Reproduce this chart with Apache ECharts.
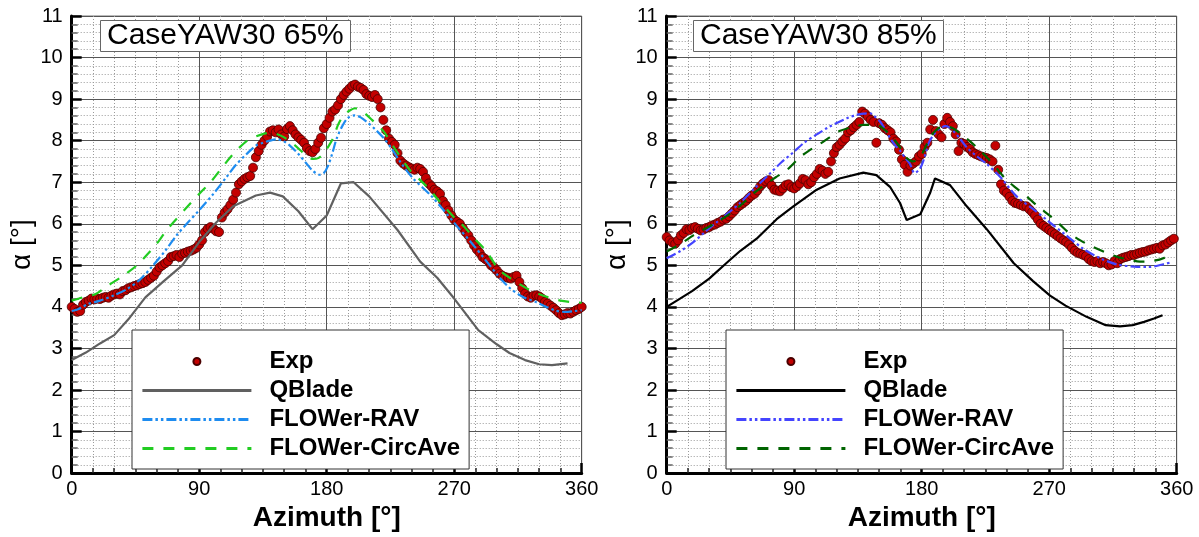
<!DOCTYPE html>
<html>
<head>
<meta charset="utf-8">
<script src="https://cdn.jsdelivr.net/npm/echarts@6/dist/echarts.min.js"></script>
<style>
html,body{margin:0;padding:0;background:#fff;}
#chart{width:1199px;height:537px;}
</style>
</head>
<body>
<div id="chart"></div>
<script>
// ---------------- DATA ----------------
const xTicks = [0, 90, 180, 270, 360];
const yTicks = [0,1,2,3,4,5,6,7,8,9,10,11];
const titles = ['CaseYAW30 65%', 'CaseYAW30 85%'];
const legendNames = ['Exp', 'QBlade', 'FLOWer-RAV', 'FLOWer-CircAve'];

// Exp measurements, one every 2 degrees of azimuth starting at 0
const expStep = 2;
const exp65 = [4.0,3.95,3.88,3.9,4.05,4.12,4.15,4.2,4.18,4.2,4.19,4.22,4.24,4.22,4.27,4.3,4.32,4.3,4.38,4.4,
  4.45,4.47,4.5,4.52,4.55,4.57,4.6,4.65,4.7,4.75,4.85,4.95,5.0,5.05,5.1,5.2,5.22,5.25,5.2,5.28,
  5.3,5.33,5.35,5.38,5.42,5.5,5.6,5.8,5.88,5.92,5.88,5.82,5.8,6.15,6.27,6.35,6.45,6.58,6.75,6.95,
  7.02,7.08,7.12,7.15,7.35,7.6,7.75,7.9,8.0,8.1,8.22,8.25,8.2,8.27,8.15,8.1,8.28,8.35,8.25,8.15,
  8.08,8.02,7.95,7.82,7.75,7.72,7.8,7.95,8.07,8.3,8.4,8.55,8.7,8.75,8.85,9.0,9.1,9.18,9.25,9.32,
  9.35,9.3,9.27,9.22,9.12,9.08,9.05,9.1,9.0,8.8,8.5,8.25,8.05,7.97,7.9,7.7,7.52,7.45,7.4,7.36,
  7.33,7.3,7.35,7.32,7.25,7.1,6.97,6.9,6.82,6.78,6.72,6.55,6.45,6.32,6.2,6.1,6.05,6.0,5.9,5.8,
  5.72,5.6,5.48,5.38,5.3,5.2,5.15,5.1,5.0,4.95,4.88,4.8,4.75,4.72,4.7,4.68,4.72,4.75,4.6,4.45,
  4.32,4.25,4.22,4.27,4.28,4.25,4.2,4.12,4.08,4.03,3.98,3.92,3.85,3.8,3.82,3.85,3.84,3.88,3.92,3.95,
  4.0];
const exp85 = [5.68,5.6,5.55,5.52,5.6,5.72,5.78,5.87,5.85,5.9,5.92,5.88,5.84,5.86,5.9,5.92,5.96,5.98,6.02,6.05,
  6.1,6.12,6.18,6.25,6.32,6.4,6.45,6.5,6.55,6.62,6.68,6.72,6.8,6.9,6.97,7.02,7.05,6.92,6.82,6.8,
  6.78,6.85,6.93,6.95,6.88,6.85,6.9,6.97,7.08,7.05,6.95,7.0,7.12,7.2,7.32,7.28,7.2,7.25,7.5,7.7,
  7.84,7.9,7.98,8.05,8.2,8.25,8.32,8.38,8.45,8.7,8.65,8.58,8.5,8.45,7.95,8.42,8.38,8.3,8.25,8.2,
  8.05,7.98,7.78,7.55,7.42,7.25,7.4,7.45,7.5,7.62,7.68,7.85,7.95,8.27,8.5,8.23,8.15,8.08,8.4,8.55,
  8.45,8.35,8.15,7.75,7.95,7.92,7.85,7.8,7.72,7.68,7.65,7.62,7.6,7.58,7.55,7.5,7.88,7.3,6.95,6.8,
  6.74,6.65,6.55,6.5,6.48,6.45,6.42,6.42,6.35,6.28,6.2,6.1,6.0,5.95,5.9,5.85,5.8,5.75,5.7,5.65,
  5.6,5.56,5.5,5.42,5.35,5.3,5.28,5.25,5.22,5.15,5.1,5.08,5.1,5.05,5.08,5.05,5.0,5.02,5.1,5.05,
  5.15,5.18,5.2,5.22,5.25,5.25,5.28,5.3,5.32,5.33,5.36,5.38,5.4,5.42,5.4,5.48,5.5,5.55,5.6,5.64];

// QBlade
const qb65Az  = [0,10,20,30,40,52,65,78,90,102,114,130,140,149,160,170,180,190,199,210,230,246,258,270,287,300,309,320,330,339,350];
const qb65Val = [2.72,2.9,3.12,3.32,3.7,4.23,4.62,5.0,5.56,6.03,6.42,6.68,6.75,6.66,6.3,5.87,6.2,6.97,7.0,6.66,5.85,5.09,4.7,4.2,3.44,3.1,2.89,2.72,2.62,2.6,2.64];
const qb85Az  = [0,8,17.9,30,42,52,63.5,77.6,89.4,105.9,122,138.8,148,157.6,164.7,169.4,179,185.9,189.4,200,211.8,225.9,245,258.6,270.6,281.5,296.4,309.9,320,328.9,337,344,350];
const qb85Val = [4.0,4.17,4.38,4.68,5.05,5.35,5.64,6.11,6.42,6.82,7.09,7.23,7.17,6.89,6.5,6.09,6.23,6.74,7.09,6.93,6.42,5.87,5.05,4.62,4.27,4.03,3.76,3.56,3.53,3.56,3.64,3.72,3.8];

// FLOWer-RAV
const rav65Az  = [0,5,11.6,20,30,38.6,48,57.5,66,74,82,90.6,100,109.4,116,123.5,130,135,140,144.7,150,154,160,166,170,175,178,181,184,187,191,195,199.8,204,208,214,220,226,231.7,241,253,262,271.8,282,293,301,309,318,328,335,341.6,348,355,360];
const rav65Val = [3.9,3.95,4.07,4.15,4.28,4.42,4.65,5.0,5.35,5.72,6.03,6.35,6.72,7.13,7.42,7.68,7.88,7.95,8.0,8.03,7.98,7.88,7.68,7.44,7.28,7.18,7.22,7.4,7.7,8.05,8.35,8.55,8.61,8.56,8.46,8.28,8.07,7.8,7.5,7.09,6.7,6.35,5.95,5.55,5.09,4.75,4.46,4.25,4.11,4.0,3.91,3.88,3.9,3.92];
const rav85Az  = [0,10,18.8,27,35,43,51.8,62,72.9,81,89.4,97,105.9,114,122.3,128,134,139,143.5,147,150.6,154,157.6,161,164.7,168,171.7,175,178.8,181.5,184.7,187.5,190.6,193.5,196.5,199.5,202.4,207,211.8,219,225.9,235.3,247,258.8,270.6,282,294,306,318,330,340,350,357];
const rav85Val = [5.17,5.35,5.56,5.8,6.03,6.25,6.5,6.85,7.21,7.48,7.72,7.95,8.15,8.32,8.46,8.55,8.62,8.65,8.66,8.58,8.46,8.28,8.07,7.9,7.76,7.6,7.44,7.22,7.33,7.55,7.92,8.1,8.23,8.3,8.35,8.32,8.23,8.05,7.84,7.62,7.44,7.13,6.66,6.35,6.03,5.72,5.4,5.17,5.02,4.97,4.96,5.02,5.08];

// FLOWer-CircAve
const ca65Az  = [0,5,10,17,25,36,46,53,60,66,71.7,80,90.6,98,104.7,112,118,123.5,130,136,140,144,150,156.4,162,166,170.5,174,177.6,181,184.7,188,191.7,196,200,206,212,220,229,238.8,246,252.9,258,264.7,270,276.4,285,292.9,301,310,322.6,333,345,355,360];
const ca65Val = [4.15,4.2,4.25,4.31,4.5,4.74,5.0,5.25,5.52,5.8,6.03,6.35,6.74,7.0,7.29,7.6,7.82,7.99,8.1,8.17,8.19,8.17,8.08,7.92,7.75,7.62,7.56,7.58,7.68,7.85,8.07,8.38,8.6,8.72,8.78,8.68,8.5,8.23,7.76,7.29,7.05,6.82,6.6,6.35,6.15,5.95,5.62,5.33,4.92,4.68,4.42,4.27,4.15,4.11,4.1];
const ca85Az  = [0,10,18.8,27,35,45,54,62,70.6,77,84.7,94,100,108,115,122,130,138.8,148,155,160,164.7,169.4,174,178.8,182,185.9,190,195.3,202,208,214,220,225.9,233,240,247,254,262,270.6,277,284.7,292,301,309,317.6,326,334,342,350.6,357.5];
const ca85Val = [5.33,5.52,5.72,5.88,6.03,6.25,6.5,6.75,6.97,7.12,7.29,7.6,7.75,7.92,8.08,8.23,8.32,8.38,8.38,8.23,8.05,7.84,7.58,7.5,7.6,7.8,8.07,8.25,8.35,8.3,8.15,7.99,7.8,7.6,7.33,7.05,6.85,6.66,6.42,6.19,6.0,5.76,5.6,5.44,5.32,5.21,5.14,5.09,5.1,5.17,5.33];

// ---------------- BUILD ----------------
const FONT = '"Liberation Sans", Arial, Helvetica, sans-serif';
const pairs = (az, val) => az.map((a, i) => [a, val[i]]);
const expPairs = vals => vals.map((v, i) => [i * expStep, v]);

const gridLefts = [71.7, 666.7];
const grids = gridLefts.map(l => ({
  left: l, top: 16, width: 510, height: 467,
  show: true, borderColor: '#777', borderWidth: 1, backgroundColor: 'transparent'
}));

function xAxisFor(i) {
  return {
    gridIndex: i, type: 'value', min: 0, max: 360, interval: 90,
    name: 'Azimuth [°]', nameLocation: 'middle', nameGap: 22,
    nameTextStyle: {fontFamily: FONT, fontSize: 28, fontWeight: 'bold', color: '#000'},
    axisLine: {show: true, onZero: false, lineStyle: {color: '#000', width: 3}},
    axisTick: {show: true, inside: true, length: 10, lineStyle: {color: '#000', width: 2.5}},
    minorTick: {show: true, splitNumber: 6, length: 5, lineStyle: {color: '#222', width: 1.5}},
    axisLabel: {show: true, fontFamily: FONT, fontSize: 20, color: '#000', margin: 6,
      formatter: v => xTicks.indexOf(v) >= 0 ? String(v) : ''},
    splitLine: {show: true, lineStyle: {color: '#555', width: 1}},
    minorSplitLine: {show: true, lineStyle: {color: '#9a9a9a', width: 1, type: [1, 2]}}
  };
}
function yAxisFor(i) {
  return {
    gridIndex: i, type: 'value', min: 0, max: 11, interval: 1,
    name: 'α [°]', nameLocation: 'middle', nameGap: 35, nameRotate: 90,
    nameTextStyle: {fontFamily: FONT, fontSize: 28, color: '#000'},
    axisLine: {show: true, onZero: false, lineStyle: {color: '#000', width: 3}},
    axisTick: {show: true, inside: true, length: 10, lineStyle: {color: '#000', width: 2.5}},
    minorTick: {show: true, splitNumber: 5, length: 6, lineStyle: {color: '#666', width: 1.5}},
    axisLabel: {show: true, fontFamily: FONT, fontSize: 20, color: '#000', margin: 9,
      formatter: v => yTicks.indexOf(v) >= 0 ? String(v) : ''},
    splitLine: {show: true, lineStyle: {color: '#555', width: 1}},
    minorSplitLine: {show: true, lineStyle: {color: '#9a9a9a', width: 1, type: [1, 2]}}
  };
}

const styles = [
  {qb: '#606060', rav: '#1e8cf0', ca: '#22cc22'},
  {qb: '#000000', rav: '#4444ff', ca: '#006400'}
];
const sets = [
  {exp: exp65, qb: [qb65Az, qb65Val], rav: [rav65Az, rav65Val], ca: [ca65Az, ca65Val]},
  {exp: exp85, qb: [qb85Az, qb85Val], rav: [rav85Az, rav85Val], ca: [ca85Az, ca85Val]}
];
const suffix = ['', '#2'];

const series = [];
sets.forEach((s, i) => {
  const st = styles[i], sf = suffix[i];
  series.push({
    name: legendNames[0] + sf, type: 'scatter', xAxisIndex: i, yAxisIndex: i,
    data: expPairs(s.exp), symbol: 'circle', symbolSize: 9,
    itemStyle: {color: '#c40000', borderColor: '#4a0000', borderWidth: 0.8, opacity: 1}
  });
  series.push({
    name: legendNames[1] + sf, type: 'line', xAxisIndex: i, yAxisIndex: i,
    data: pairs(s.qb[0], s.qb[1]), showSymbol: false, symbol: 'none',
    lineStyle: {color: st.qb, width: 2.2}, itemStyle: {color: st.qb}
  });
  series.push({
    name: legendNames[2] + sf, type: 'line', xAxisIndex: i, yAxisIndex: i, smooth: 0.3,
    data: pairs(s.rav[0], s.rav[1]), showSymbol: false, symbol: 'none',
    lineStyle: {color: st.rav, width: 2.2, type: [10, 3, 2.5, 3, 2.5, 3]}, itemStyle: {color: st.rav}
  });
  series.push({
    name: legendNames[3] + sf, type: 'line', xAxisIndex: i, yAxisIndex: i, smooth: 0.3,
    data: pairs(s.ca[0], s.ca[1]), showSymbol: false, symbol: 'none',
    lineStyle: {color: st.ca, width: 2.2, type: [11, 10]}, itemStyle: {color: st.ca}
  });
});

const legendLefts = [132, 726];
const legends = [0, 1].map(i => ({
  orient: 'vertical', left: legendLefts[i], top: 330,
  data: legendNames.map((n, k) => k === 0
    ? {name: n + suffix[i], icon: 'circle'}
    : {name: n + suffix[i], itemStyle: {opacity: 0, borderWidth: 0}, lineStyle: {width: 2.8}}),
  formatter: n => n.replace('#2', ''),
  itemWidth: 109, itemHeight: 7, itemGap: 0,
  selectedMode: false,
  backgroundColor: '#fff', borderColor: '#333', borderWidth: 1,
  padding: [17, 9, 6, 9],
  textStyle: {fontFamily: FONT, fontSize: 24, fontWeight: 'bold', color: '#000', lineHeight: 29, padding: [0, 0, 0, 13]}
}));

const titleLefts = [100, 693];
const titleOpts = [0, 1].map(i => ({
  text: titles[i], left: titleLefts[i], top: 20,
  backgroundColor: '#fff', borderColor: '#666', borderWidth: 1, padding: [1, 7],
  textStyle: {fontFamily: FONT, fontSize: 30, fontWeight: 'normal', color: '#000', lineHeight: 30}
}));

const chart = echarts.init(document.getElementById('chart'), null, {renderer: 'canvas'});
chart.setOption({
  animation: false,
  backgroundColor: '#fff',
  title: titleOpts,
  legend: legends,
  grid: grids,
  xAxis: [xAxisFor(0), xAxisFor(1)],
  yAxis: [yAxisFor(0), yAxisFor(1)],
  series: series
});
</script>
</body>
</html>
